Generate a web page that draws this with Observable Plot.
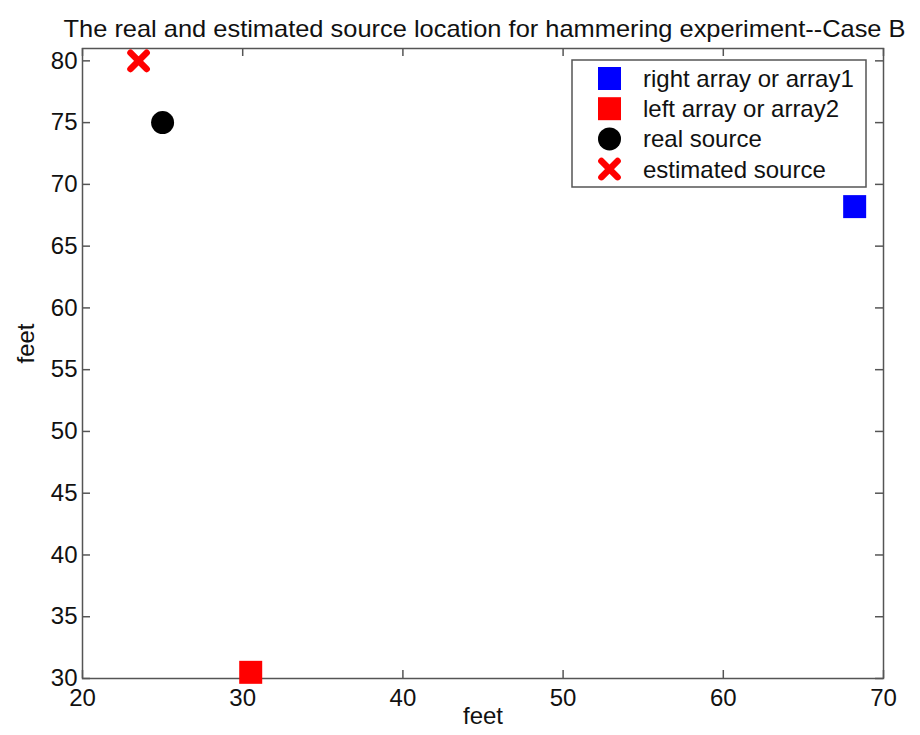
<!DOCTYPE html>
<html>
<head>
<meta charset="utf-8">
<script src="https://cdn.jsdelivr.net/npm/d3@7"></script>
<script src="https://cdn.jsdelivr.net/npm/@observablehq/plot@0.6"></script>
<style>
  html, body { margin: 0; padding: 0; background: #fff; }
  svg { display: block; }
</style>
</head>
<body>
<div id="chart"></div>
<script>
// Array positions and source locations (feet)
const seriesNames = ["right array or array1", "left array or array2", "real source", "estimated source"];
const seriesX = [68.2, 30.5, 25, 23.5];
const seriesY = [68.2, 30.5, 75, 80];
const seriesColors = ["#0000ff", "#ff0000", "#000000", "#ff0000"];
const seriesSymbols = ["square", "square", "circle", "times"];

const xTicks = [20, 30, 40, 50, 60, 70];
const yTicks = [30, 35, 40, 45, 50, 55, 60, 65, 70, 75, 80];

const titleText = "The real and estimated source location for hammering experiment--Case B";
const xLabel = "feet";
const yLabel = "feet";

const points = seriesNames.map((name, i) => ({
  name, x: seriesX[i], y: seriesY[i], color: seriesColors[i], symbol: seriesSymbols[i]
}));

const W = 920, H = 735;
const mL = 82, mR = 37, mT = 48, mB = 57;
const innerW = W - mL - mR, innerH = H - mT - mB;
const tickLen = 8;
const font = "'Liberation Sans', Arial, Helvetica, sans-serif";
const frameColor = "#555";
const squareSide = 23, circleR = 11.5;
const crossR = 7.4, crossWidth = 6.5;

const squares = points.filter(d => d.symbol === "square");
const circles = points.filter(d => d.symbol === "circle");
const crosses = points.filter(d => d.symbol === "times");

const chart = Plot.plot({
  width: W,
  height: H,
  marginLeft: mL, marginRight: mR, marginTop: mT, marginBottom: mB,
  style: { fontFamily: font, fontSize: "24px", color: "#111", background: "#fff" },
  x: { domain: [20, 70], ticks: xTicks },
  y: { domain: [30, 81], ticks: yTicks },
  marks: [
    Plot.frame({ stroke: frameColor, strokeWidth: 1.5 }),
    // inward ticks on all four sides
    Plot.tickY(yTicks, { y: d => d, insetRight: innerW - tickLen, stroke: frameColor, strokeWidth: 1.5 }),
    Plot.tickY(yTicks, { y: d => d, insetLeft: innerW - tickLen, stroke: frameColor, strokeWidth: 1.5 }),
    Plot.tickX(xTicks, { x: d => d, insetTop: innerH - tickLen, stroke: frameColor, strokeWidth: 1.5 }),
    Plot.tickX(xTicks, { x: d => d, insetBottom: innerH - tickLen, stroke: frameColor, strokeWidth: 1.5 }),
    Plot.axisX(xTicks, { tickSize: 0, tickPadding: 10, label: null, fontSize: 24 }),
    Plot.axisY(yTicks, { tickSize: 0, tickPadding: 5, label: null, fontSize: 24 }),
    Plot.text([xLabel], { text: d => d, frameAnchor: "bottom", dy: 45, fontSize: 24 }),
    Plot.text([yLabel], { text: d => d, frameAnchor: "left", dx: -56, rotate: -90, fontSize: 24 }),
    Plot.text([titleText], { text: d => d, frameAnchor: "top", dx: 1.5, dy: -29, fontSize: 24, className: "chart-title" }),
    Plot.dot(squares, { x: "x", y: "y", symbol: "square", fill: "color", r: squareSide / Math.sqrt(Math.PI) }),
    Plot.dot(circles, { x: "x", y: "y", symbol: "circle", fill: "color", r: circleR }),
    Plot.dot(crosses, { x: "x", y: "y", symbol: "times", stroke: "color", strokeWidth: crossWidth, strokeLinecap: "round", r: crossR })
  ]
});

document.getElementById("chart").appendChild(chart);

// Fit the title to its measured span
const titleNode = chart.querySelector(".chart-title text");
if (titleNode) {
  titleNode.setAttribute("textLength", 842);
  titleNode.setAttribute("lengthAdjust", "spacingAndGlyphs");
}

// Legend box in the upper right of the axes
const svg = d3.select(chart);
const lg = svg.append("g").attr("transform", "translate(572,60)");
lg.append("rect")
  .attr("width", 294).attr("height", 127)
  .attr("fill", "#fff").attr("stroke", frameColor).attr("stroke-width", 1.5);
const rowH = 30.2, row0 = 18.5;
points.forEach((d, i) => {
  const g = lg.append("g").attr("transform", `translate(37.5,${row0 + i * rowH})`);
  if (d.symbol === "times") {
    g.append("path").attr("d", d3.symbol(d3.symbolTimes, Math.PI * crossR * crossR)())
      .attr("fill", "none").attr("stroke", d.color)
      .attr("stroke-width", crossWidth).attr("stroke-linecap", "round");
  } else {
    const type = d.symbol === "square" ? d3.symbolSquare : d3.symbolCircle;
    const size = d.symbol === "square" ? squareSide * squareSide : Math.PI * circleR * circleR;
    g.append("path").attr("d", d3.symbol(type, size)()).attr("fill", d.color);
  }
  g.append("text")
    .attr("x", 33.5).attr("dy", "0.35em")
    .attr("text-anchor", "start")
    .attr("font-family", font).attr("font-size", 24).attr("fill", "#111")
    .text(d.name);
});
</script>
</body>
</html>
